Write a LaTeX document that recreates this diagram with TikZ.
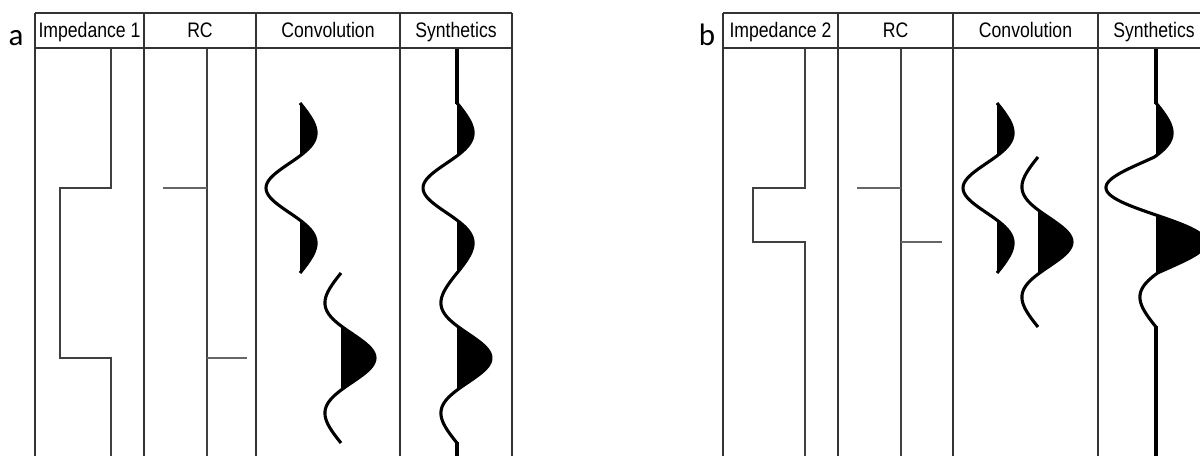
\documentclass[tikz,border=0pt]{standalone}
\usepackage{fontspec}
\usepackage{tikz}
\newfontfamily\hdrfont{Liberation Sans}[FakeStretch=0.84]
\newfontfamily\lblfont{Carlito}
\tikzset{declare function={
	rick(\t)=(1-2*(\t/45.25)*(\t/45.25))*exp(-0.9*(\t/45.25)*(\t/45.25))+0.253*(\t/85)*(\t/85)*(\t/85)*(\t/85);
	wv(\t)=rick(max(-85,min(85,\t)));
}}

\begin{document}
\begin{tikzpicture}[x=1pt,y=-1pt,
		frame/.style={line width=1.6pt,black!80},
		imp/.style={line width=1.7pt,black!75},
		spike/.style={line width=1.3pt,black!60},
		trace/.style={line width=3.1pt,black,line join=round},
		hdr/.style={font=\hdrfont\fontsize{21}{23}\selectfont,anchor=base,inner sep=0pt},
		lbl/.style={font=\lblfont\fontsize{31}{33}\selectfont,anchor=base,inner sep=0pt}]
			\clip (0,0) rectangle (1200,456);
			\node[lbl] (la) at (16,45) {a};
			\node[lbl] (lb) at (707,45) {b};
			\node[hdr] (imp1) at (89.5,37.5) {Impedance 1};
			\node[hdr] (rca) at (200,37.5) {RC};
			\node[hdr] (cva) at (328,37.5) {Convolution};
			\node[hdr] (sya) at (456,37.5) {Synthetics};
			\node[hdr] (imp2) at (780.5,37.5) {Impedance 2};
			\node[hdr] (rcb) at (895.5,37.5) {RC};
			\node[hdr] (cvb) at (1025.5,37.5) {Convolution};
			\node[hdr] (syb) at (1154,37.5) {Synthetics};
			
			\fill plot[domain=103:156,samples=31] ({300+max(0,-34*wv(\x-188))},{\x}) -- cycle;
			\fill plot[domain=220:273,samples=31] ({300+max(0,-34*wv(\x-188))},{\x}) -- cycle;
			\fill plot[domain=326:390,samples=35] ({341+max(0,34*wv(\x-358))},{\x}) -- cycle;
			\fill plot[domain=103:156,samples=31] ({457+max(0,-34*wv(\x-188))},{\x}) -- cycle;
			\fill plot[domain=220:273,samples=31] ({457+max(0,-34*wv(\x-188))},{\x}) -- cycle;
			\fill plot[domain=326:390,samples=35] ({457+max(0,34*wv(\x-358))},{\x}) -- cycle;
			\draw[trace] plot[domain=103:273,samples=71] ({300-34*wv(\x-188)},{\x});
			\draw[trace] plot[domain=273:443,samples=71] ({341+34*wv(\x-358)},{\x});
			\draw[trace] plot[domain=103:443,samples=171] ({457-34*wv(\x-188)+34*wv(\x-358)},{\x});
			\draw[line width=4pt] (457,48) -- (457,104);
			\draw[line width=4pt] (457,442) -- (457,456);
			
			\fill plot[domain=103:156,samples=31] ({997+max(0,-34*wv(\x-188))},{\x}) -- cycle;
			\fill plot[domain=220:273,samples=31] ({997+max(0,-34*wv(\x-188))},{\x}) -- cycle;
			\fill plot[domain=210:274,samples=35] ({1038+max(0,34*wv(\x-242))},{\x}) -- cycle;
			\fill plot[domain=103:156,samples=31] ({1156+max(0,34*wv(\x-242)-34*wv(\x-188))},{\x}) -- cycle;
			\fill plot[domain=215:274,samples=35] ({1156+max(0,34*wv(\x-242)-34*wv(\x-188))},{\x}) -- cycle;
			\draw[trace] plot[domain=103:273,samples=71] ({997-34*wv(\x-188)},{\x});
			\draw[trace] plot[domain=157:327,samples=71] ({1038+34*wv(\x-242)},{\x});
			\draw[trace] plot[domain=103:327,samples=121] ({1156-34*wv(\x-188)+34*wv(\x-242)},{\x});
			\draw[line width=4pt] (1156,48) -- (1156,104);
			\draw[line width=4pt] (1156,326) -- (1156,456);
			
			\draw[imp] (111,48) -- (111,188) -- (60,188) -- (60,358) -- (111,358) -- (111,456);
			\draw[imp] (207,48) -- (207,456);
			\draw[spike] (163,188) -- (207,188);
			\draw[spike] (207,358) -- (247,358);
			\draw[imp] (805,48) -- (805,188) -- (753,188) -- (753,242) -- (805,242) -- (805,456);
			\draw[imp] (901,48) -- (901,456);
			\draw[spike] (857,188) -- (901,188);
			\draw[spike] (901,242) -- (942,242);
			
			\draw[frame] (35,13) -- (512,13);
			\draw[frame] (35,48) -- (512,48);
			\draw[frame] (35,13) -- (35,456);
			\draw[frame] (144,13) -- (144,456);
			\draw[frame] (256,13) -- (256,456);
			\draw[frame] (400,13) -- (400,456);
			\draw[frame] (512,13) -- (512,456);
			\draw[frame] (723,13) -- (1210,13);
			\draw[frame] (723,48) -- (1210,48);
			\draw[frame] (723,13) -- (723,456);
			\draw[frame] (838,13) -- (838,456);
			\draw[frame] (953,13) -- (953,456);
			\draw[frame] (1098,13) -- (1098,456);
		\end{tikzpicture}
\end{document}
